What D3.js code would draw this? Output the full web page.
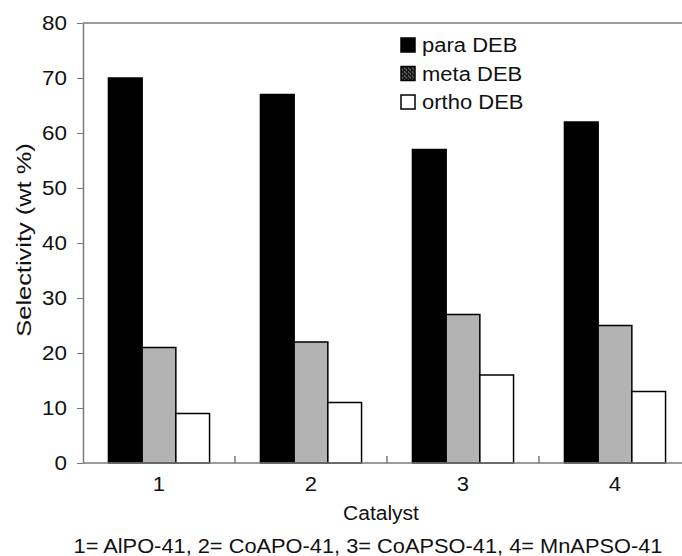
<!DOCTYPE html>
<html>
<head>
<meta charset="utf-8">
<script src="https://cdn.jsdelivr.net/npm/d3@7/dist/d3.min.js"></script>
<style>
  html, body { margin: 0; padding: 0; background: #fff; }
  svg { display: block; }
  text { font-family: "Liberation Sans", Arial, Helvetica, sans-serif; fill: #111; }
</style>
</head>
<body>
<svg id="chart" width="682" height="556"></svg>
<script>
// Catalysts and DEB isomer selectivities (wt %)
const catalysts = ["1", "2", "3", "4"];
const seriesNames = ["para DEB", "meta DEB", "ortho DEB"];
const paraDEB = [70, 67, 57, 62];
const metaDEB = [21, 22, 27, 25];
const orthoDEB = [9, 11, 16, 13];
const yTicks = [0, 10, 20, 30, 40, 50, 60, 70, 80];
const xTitle = "Catalyst";
const yTitle = "Selectivity (wt %)";
const footnote = "1= AlPO-41, 2= CoAPO-41, 3= CoAPSO-41, 4= MnAPSO-41";

const seriesValues = [paraDEB, metaDEB, orthoDEB];

const svg = d3.select("#chart");
const W = 682, H = 556;
const plot = { left: 83, top: 23, right: 691, bottom: 463 };
const axisColor = "#7a7a7a";
const fontSize = "20px";

// stretch text along its own direction by a fixed factor
function stretch(sel, k) {
  sel.each(function () {
    const len = this.getComputedTextLength();
    d3.select(this).attr("textLength", len * k).attr("lengthAdjust", "spacingAndGlyphs");
  });
}

// dithered swatch used for the meta series in the legend
const defs = svg.append("defs");
const pat = defs.append("pattern")
  .attr("id", "metaDots").attr("patternUnits", "userSpaceOnUse")
  .attr("width", 4).attr("height", 4);
pat.append("rect").attr("width", 4).attr("height", 4).attr("fill", "#1a1a1a");
pat.append("rect").attr("x", 1).attr("y", 0).attr("width", 1).attr("height", 1).attr("fill", "#9a9a9a");
pat.append("rect").attr("x", 3).attr("y", 2).attr("width", 1).attr("height", 1).attr("fill", "#9a9a9a");
pat.append("rect").attr("x", 0).attr("y", 3).attr("width", 1).attr("height", 1).attr("fill", "#777");

const fills = ["#000000", "#b3b3b3", "#ffffff"];
const legendFills = ["#000000", "url(#metaDots)", "#ffffff"];

const y = d3.scaleLinear().domain([0, 80]).range([plot.bottom, plot.top]);
const x0 = d3.scaleBand().domain(catalysts).range([plot.left, plot.right]).padding(0);
const x1 = d3.scaleBand().domain(seriesNames).range([0, x0.bandwidth()])
  .paddingInner(0).paddingOuter(0.755);

// top frame line
svg.append("line")
  .attr("x1", plot.left).attr("x2", W)
  .attr("y1", plot.top).attr("y2", plot.top)
  .attr("stroke", axisColor).attr("stroke-width", 1.5);

// bars
const groups = svg.append("g").selectAll("g")
  .data(catalysts).join("g")
  .attr("transform", d => `translate(${x0(d)},0)`);

groups.selectAll("rect")
  .data((c, i) => seriesNames.map((s, k) => ({ s, k, v: seriesValues[k][i] })))
  .join("rect")
  .attr("x", d => x1(d.s))
  .attr("y", d => y(d.v))
  .attr("width", x1.bandwidth())
  .attr("height", d => y(0) - y(d.v))
  .attr("fill", d => fills[d.k])
  .attr("stroke", "#000")
  .attr("stroke-width", 1.5);

// y axis
const yAxis = svg.append("g")
  .attr("transform", `translate(${plot.left},0)`)
  .call(d3.axisLeft(y).tickValues(yTicks).tickSize(6).tickPadding(10).tickSizeOuter(0));
yAxis.select(".domain").attr("stroke", axisColor).attr("stroke-width", 1.5);
yAxis.selectAll(".tick line").attr("stroke", axisColor).attr("stroke-width", 1);
yAxis.selectAll(".tick text")
  .style("font-size", fontSize).style("font-family", "'Liberation Sans', Arial, sans-serif")
  .attr("fill", "#111")
  .call(stretch, 1.12);

// x axis: separators between catalyst groups, pointing into the plot
const xAxis = svg.append("g")
  .attr("transform", `translate(0,${plot.bottom})`);
xAxis.append("line")
  .attr("x1", plot.left).attr("x2", W)
  .attr("y1", 0).attr("y2", 0)
  .attr("stroke", axisColor).attr("stroke-width", 1.5);
xAxis.selectAll("line.sep")
  .data(catalysts.slice(1)).join("line")
  .attr("class", "sep")
  .attr("x1", d => x0(d)).attr("x2", d => x0(d))
  .attr("y1", 0).attr("y2", -7)
  .attr("stroke", axisColor).attr("stroke-width", 1.5);
xAxis.selectAll("text.cat")
  .data(catalysts).join("text")
  .attr("class", "cat")
  .attr("x", d => x0(d) + x0.bandwidth() / 2)
  .attr("y", 28)
  .attr("text-anchor", "middle")
  .style("font-size", fontSize)
  .text(d => d)
  .call(stretch, 1.1);

// axis titles
svg.append("text")
  .attr("x", 381).attr("y", 520)
  .attr("text-anchor", "middle")
  .style("font-size", fontSize)
  .text(xTitle)
  .call(stretch, 1.05);

svg.append("text")
  .attr("transform", "translate(31,240) rotate(-90)")
  .attr("text-anchor", "middle")
  .style("font-size", fontSize)
  .text(yTitle)
  .call(stretch, 1.27);

svg.append("text")
  .attr("x", 368).attr("y", 553)
  .attr("text-anchor", "middle")
  .style("font-size", fontSize)
  .text(footnote)
  .call(stretch, 1.09);

// legend
const legend = svg.append("g").selectAll("g")
  .data(seriesNames).join("g")
  .attr("transform", (d, i) => `translate(401,${45 + i * 28.5})`);
legend.append("rect")
  .attr("x", 0).attr("y", -7).attr("width", 14).attr("height", 14)
  .attr("fill", (d, i) => legendFills[i])
  .attr("stroke", "#000").attr("stroke-width", 1.5);
legend.append("text")
  .attr("x", 21).attr("y", 7)
  .style("font-size", fontSize)
  .text(d => d)
  .call(stretch, 1.1);
</script>
</body>
</html>
